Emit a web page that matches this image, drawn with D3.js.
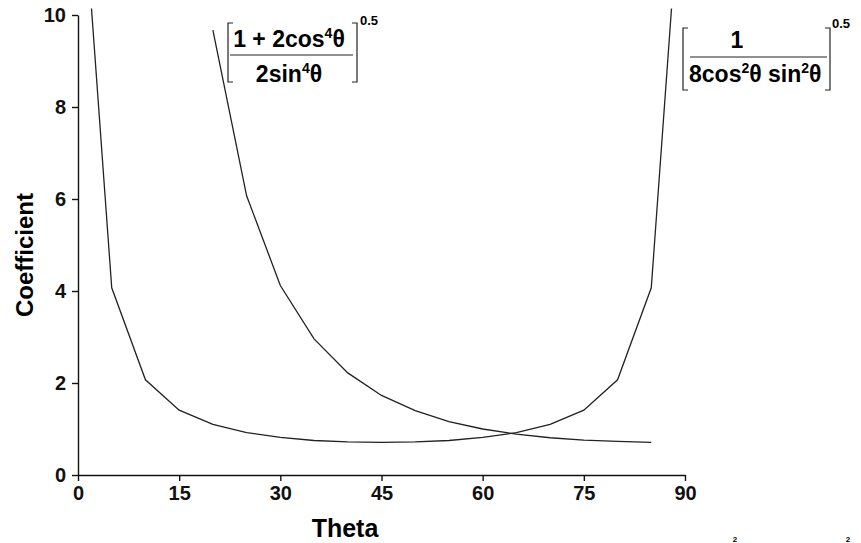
<!DOCTYPE html>
<html>
<head>
<meta charset="utf-8">
<script src="https://cdn.jsdelivr.net/npm/d3@7"></script>
<style>
  body { margin: 0; background: #fff; }
  svg { display: block; font-family: "Liberation Sans", Arial, sans-serif; font-weight: bold; }
  .axis path, .axis line { stroke: #111; stroke-width: 1.4; }
  .axis text { font-size: 20px; font-weight: bold; fill: #111; }
  .curve { fill: none; stroke: #222; stroke-width: 1.3; }
  .brk { fill: none; stroke: #222; stroke-width: 1.2; }
</style>
</head>
<body>
<svg id="chart" width="861" height="543"></svg>
<script>
// theta (degrees) vs coefficient
var thetaA = [2, 5, 10, 15, 20, 25, 30, 35, 40, 45, 50, 55, 60, 65, 70, 75, 80, 85, 88];
var coefA = [10.14, 4.07, 2.07, 1.41, 1.10, 0.92, 0.82, 0.75, 0.72, 0.71, 0.72, 0.75, 0.82, 0.92, 1.10, 1.41, 2.07, 4.07, 10.14];

var thetaB = [20, 25, 30, 35, 40, 45, 50, 55, 60, 65, 70, 75, 80, 85];
var coefB = [9.67, 6.07, 4.12, 2.96, 2.22, 1.73, 1.40, 1.16, 1.00, 0.89, 0.81, 0.76, 0.73, 0.71];

var xTicks = [0, 15, 30, 45, 60, 75, 90];
var yTicks = [0, 2, 4, 6, 8, 10];

var svg = d3.select("#chart");

var x = d3.scaleLinear().domain([0, 90]).range([78, 685]);
var y = d3.scaleLinear().domain([0, 10]).range([475, 15]);

svg.append("g")
    .attr("class", "axis")
    .attr("transform", "translate(0,475)")
    .call(d3.axisBottom(x).tickValues(xTicks).tickSize(6).tickSizeOuter(0).tickPadding(5))

svg.append("g")
    .attr("class", "axis")
    .attr("transform", "translate(78,0)")
    .call(d3.axisLeft(y).tickValues(yTicks).tickSize(6).tickSizeOuter(0).tickPadding(6))

svg.selectAll(".axis text").attr("font-family", null)

var line = d3.line()
    .x(function(d) { return x(d[0]); })
    .y(function(d) { return y(d[1]); });

svg.append("path")
    .attr("class", "curve")
    .attr("d", line(d3.zip(thetaA, coefA)));

svg.append("path")
    .attr("class", "curve")
    .attr("d", line(d3.zip(thetaB, coefB)));

// axis titles
svg.append("text")
    .attr("x", 345)
    .attr("y", 537)
    .attr("text-anchor", "middle")
    .style("font-size", "25px")
    .text("Theta");

svg.append("text")
    .attr("transform", "translate(33,255) rotate(-90)")
    .attr("text-anchor", "middle")
    .style("font-size", "24px")
    .text("Coefficient");

// bracket helper
var bracket = function(xp, y1, y2, dir) {
    var s = 5 * dir;
    svg.append("path")
        .attr("class", "brk")
        .attr("d", "M" + (xp + s) + "," + y1 + "H" + xp + "V" + y2 + "H" + (xp + s));
}

var fracText = function(xp, yp, anchor, parts) {
    var t = svg.append("text")
        .attr("x", xp)
        .attr("y", yp)
        .attr("text-anchor", anchor)
        .style("font-size", "23px");
    parts.forEach(function(p) {
        if (p.sup)
            t.append("tspan").attr("dy", -9).style("font-size", "14px").text(p.t);
        else
            t.append("tspan").attr("dy", p.back ? 9 : 0).text(p.t);
    })
}

// first formula: [(1 + 2cos^4 θ)/(2sin^4 θ)]^0.5
bracket(228, 23, 82, 1);
bracket(357, 23, 82, -1);
svg.append("line").attr("class", "brk").attr("x1", 230).attr("x2", 353).attr("y1", 55).attr("y2", 55);
fracText(289, 47, "middle", [{t: "1 + 2cos"}, {t: "4", sup: true}, {t: "θ", back: true}]);
fracText(289, 82, "middle", [{t: "2sin"}, {t: "4", sup: true}, {t: "θ", back: true}]);
svg.append("text").attr("x", 360).attr("y", 25).style("font-size", "13px").text("0.5");

// second formula: [1/(8cos^2 θ sin^2 θ)]^0.5
bracket(683, 28, 90, 1);
bracket(830, 28, 90, -1);
svg.append("line").attr("class", "brk").attr("x1", 690).attr("x2", 827).attr("y1", 57).attr("y2", 57);
fracText(737, 48, "middle", [{t: "1"}]);
fracText(689, 82, "start", [{t: "8cos"}, {t: "2", sup: true}, {t: "θ sin", back: true}, {t: "2", sup: true}, {t: "θ", back: true}]);
svg.append("text").attr("x", 832).attr("y", 28).style("font-size", "13px").text("0.5");

// caption glyphs at the bottom edge (shrunk to fit)
svg.append("text").attr("x", 735).attr("y", 542).attr("text-anchor", "middle").style("font-size", "8px").text("2");
svg.append("text").attr("x", 848).attr("y", 542).attr("text-anchor", "middle").style("font-size", "8px").text("2");
</script>
</body>
</html>
